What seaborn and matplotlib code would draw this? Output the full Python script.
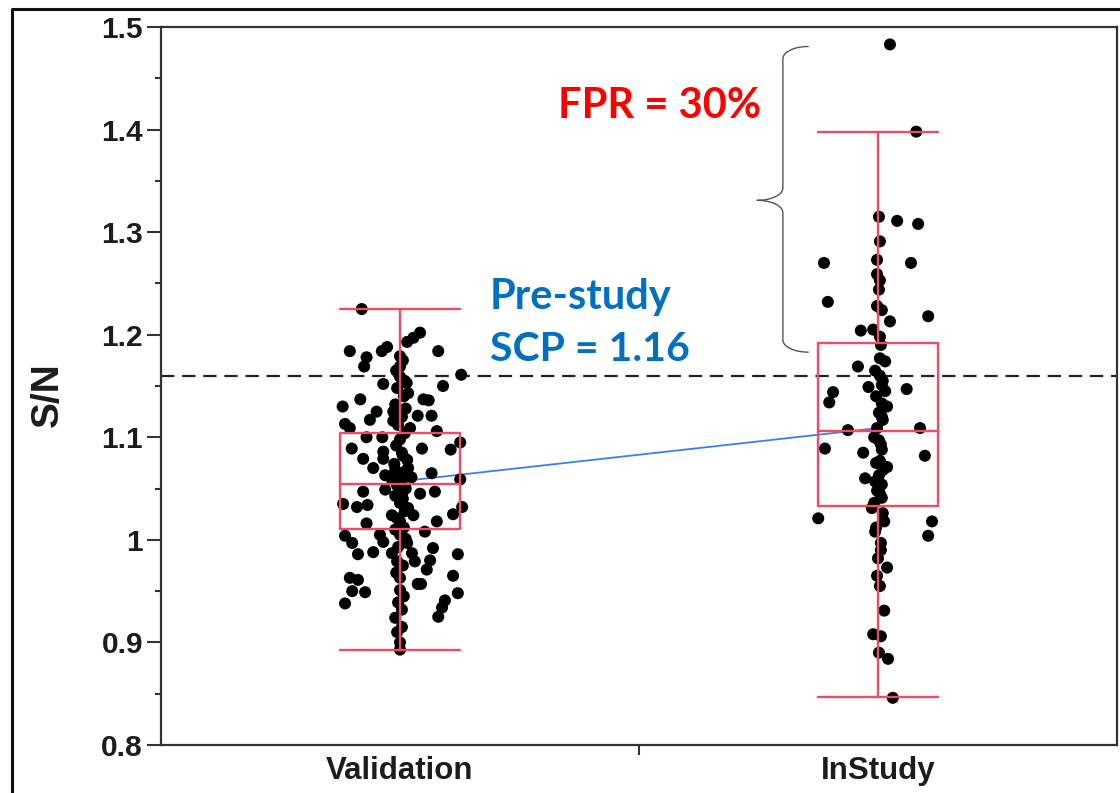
import numpy as np
import pandas as pd
import matplotlib
matplotlib.use("Agg")
import matplotlib.pyplot as plt
from matplotlib.lines import Line2D
from matplotlib.ticker import MultipleLocator, FixedLocator
import seaborn as sns

# ---------------------------------------------------------------- data
groups = ["Validation", "InStudy"]

# S/N values and horizontal jitter (in category units) for the Validation set
val_sn = [
    1.225, 1.202, 1.197, 1.193, 1.184, 1.188, 1.184, 1.184, 1.178, 1.179,
    1.169, 1.169, 1.161, 1.159, 1.152, 1.150, 1.153, 1.143, 1.137, 1.137,
    1.136, 1.130, 1.125, 1.125, 1.121, 1.121, 1.117, 1.113, 1.116, 1.109,
    1.109, 1.106, 1.100, 1.100, 1.098, 1.095, 1.089, 1.089, 1.088, 1.086,
    1.085, 1.079, 1.079, 1.078, 1.070, 1.068, 1.070, 1.063, 1.061, 1.061,
    1.065, 1.059, 1.059, 1.047, 1.049, 1.047, 1.045, 1.047, 1.035, 1.032,
    1.034, 1.036, 1.031, 1.032, 1.024, 1.024, 1.025, 1.016, 1.018, 1.018,
    1.008, 1.004, 1.005, 1.005, 0.997, 0.998, 0.997, 0.988, 0.986, 0.987,
    0.987, 0.992, 0.986, 0.980, 0.979, 0.979, 0.971, 0.963, 0.961, 0.963,
    0.965, 0.957, 0.957, 0.950, 0.949, 0.951, 0.948, 0.938, 0.941, 0.939,
    0.934, 0.925, 0.924, 0.932, 0.900, 0.893,
    1.175, 1.165, 1.155, 1.148, 1.140, 1.132, 1.128, 1.120, 1.112, 1.104,
    1.092, 1.082, 1.074, 1.066, 1.058, 1.053, 1.050, 1.043, 1.040, 1.028,
    1.021, 1.012, 1.010, 1.001, 0.993, 0.975, 0.968, 0.945, 0.915, 0.910,
]
val_jitter = [
    -0.080, 0.042, 0.028, 0.015, -0.105, -0.027, -0.038, 0.080, -0.070, 0.000,
    -0.075, 0.000, 0.128, 0.000, -0.035, 0.090, 0.014, 0.017, -0.083, 0.049,
    0.060, -0.120, -0.049, -0.014, 0.037, 0.066, -0.063, -0.115, -0.014, -0.105,
    0.021, 0.077, -0.070, -0.037, 0.000, 0.126, -0.101, 0.046, 0.106, -0.035,
    0.004, -0.077, -0.035, 0.015, -0.056, -0.010, 0.017, -0.031, 0.000, 0.024,
    0.066, 0.126, -0.017, -0.077, -0.031, 0.006, 0.042, 0.073, -0.119, -0.090,
    -0.068, 0.000, 0.017, 0.130, -0.017, 0.028, 0.111, -0.070, 0.000, 0.077,
    0.052, -0.115, -0.042, 0.000, -0.100, -0.035, 0.015, -0.056, -0.088, -0.017,
    0.025, 0.069, 0.121, 0.063, -0.006, 0.031, 0.056, -0.105, -0.088, 0.000,
    0.111, 0.037, 0.044, -0.100, -0.073, 0.000, 0.121, -0.115, 0.094, -0.004,
    0.088, 0.080, -0.010, 0.004, 0.000, 0.000,
    0.006, -0.008, 0.010, -0.006, 0.008, -0.010, 0.012, 0.004, -0.004, 0.010,
    -0.008, 0.006, -0.012, 0.008, 0.004, -0.006, 0.012, -0.010, 0.006, 0.010,
    -0.006, 0.008, -0.010, 0.012, -0.004, 0.006, -0.008, 0.008, 0.004, -0.006,
]

# S/N values and horizontal jitter for the in-study samples
ins_sn = [
    1.483, 1.398, 1.315, 1.311, 1.308, 1.291, 1.270, 1.273, 1.270, 1.259,
    1.253, 1.244, 1.232, 1.228, 1.224, 1.218, 1.213, 1.204, 1.205, 1.198,
    1.177, 1.174, 1.169, 1.160, 1.149, 1.151, 1.145, 1.147, 1.144, 1.134,
    1.133, 1.130, 1.124, 1.117, 1.107, 1.109, 1.109, 1.089, 1.085, 1.097,
    1.088, 1.082, 1.077, 1.071, 1.060, 1.063, 1.054, 1.048, 1.041, 1.021,
    1.031, 1.018, 1.018, 1.004, 1.008, 0.997, 0.982, 0.973, 0.955, 0.931,
    0.908, 0.906, 0.890, 0.884, 0.846,
    1.190, 1.165, 1.155, 1.140, 1.120, 1.100, 1.093, 1.075, 1.068, 1.057,
    1.045, 1.036, 1.026, 1.012, 0.990, 0.965,
]
ins_jitter = [
    0.025, 0.080, 0.002, 0.040, 0.084, 0.004, -0.113, -0.002, 0.069, -0.002,
    0.004, 0.002, -0.105, -0.002, 0.008, 0.105, 0.025, -0.036, -0.010, 0.004,
    0.004, 0.015, -0.042, 0.004, -0.020, 0.008, 0.015, 0.060, -0.094, -0.102,
    0.008, 0.019, 0.002, 0.010, -0.063, -0.002, 0.088, -0.111, -0.031, 0.002,
    0.008, 0.098, 0.004, 0.019, -0.027, 0.002, 0.008, -0.002, 0.008, -0.125,
    -0.013, 0.013, 0.113, 0.105, -0.006, 0.006, 0.000, 0.019, 0.004, 0.013,
    -0.010, 0.006, 0.002, 0.021, 0.031,
    0.006, -0.006, 0.010, -0.004, 0.008, -0.008, 0.006, -0.004, 0.010, -0.006,
    0.004, -0.008, 0.010, -0.004, 0.006, -0.002,
]

# box-plot summaries (quartiles and whisker ends)
box_q1 = [1.011, 1.033]
box_med = [1.054, 1.106]
box_q3 = [1.104, 1.192]
box_lo = [0.893, 0.847]
box_hi = [1.225, 1.398]
group_mean = [1.057, 1.109]

scp_cutoff = 1.16
y_ticks = [0.8, 0.9, 1.0, 1.1, 1.2, 1.3, 1.4, 1.5]
y_tick_labels = ["0.8", "0.9", "1", "1.1", "1.2", "1.3", "1.4", "1.5"]

# ---------------------------------------------------------------- frame
df = pd.DataFrame({
    "group": [groups[0]] * len(val_sn) + [groups[1]] * len(ins_sn),
    "code": [0] * len(val_sn) + [1] * len(ins_sn),
    "jitter": val_jitter + ins_jitter,
    "sn": val_sn + ins_sn,
})
df["xpos"] = df["code"] + df["jitter"]

# ---------------------------------------------------------------- style
sns.set_theme(style="white")
plt.rcParams["font.family"] = ["Liberation Sans", "DejaVu Sans"]

W, H = 1120, 793
fig = plt.figure(figsize=(W / 100, H / 100), dpi=100)
ax = fig.add_axes([161 / W, 1 - 745 / H, (1117 - 161) / W, (745 - 27) / H])

box_red = "#EF4B63"
mean_blue = "#3C7EEE"
ink = "#1c1c1c"

# line joining the group means
ax.plot([0, 1], group_mean, color=mean_blue, lw=1.3, zorder=2)

# reference cutoff
ax.axhline(scp_cutoff, color="#222222", lw=1.6, ls=(0, (6, 3.5)), zorder=1)

# jittered points
sns.scatterplot(data=df, x="xpos", y="sn", color="black", s=75,
                edgecolor="none", linewidth=0, legend=False, ax=ax, zorder=3)

# boxes on top of the points
stats = []
for i, g in enumerate(groups):
    stats.append(dict(label=g, med=box_med[i], q1=box_q1[i], q3=box_q3[i],
                      whislo=box_lo[i], whishi=box_hi[i], fliers=[]))
lp = dict(color=box_red, lw=1.7)
ax.bxp(stats, positions=[0, 1], widths=0.25, capwidths=0.25,
       showfliers=False, patch_artist=False,
       boxprops=lp, whiskerprops=lp, capprops=lp, medianprops=lp,
       manage_ticks=False, zorder=4)

# ---------------------------------------------------------------- axes
ax.set_xlim(-0.5, 1.5)
ax.set_ylim(0.8, 1.5)
ax.set_xlabel("")
ax.set_xticks([0, 1])
ax.set_xticklabels(groups)
ax.xaxis.set_minor_locator(FixedLocator([0.5]))
ax.set_yticks(y_ticks)
ax.set_yticklabels(y_tick_labels)
ax.yaxis.set_minor_locator(MultipleLocator(0.05))

for sp in ax.spines.values():
    sp.set_visible(True)
    sp.set_color("#333333")
    sp.set_linewidth(1.6)

ax.tick_params(axis="y", which="major", direction="out", length=10, width=1.5,
               color="#333333", pad=3, left=True)
ax.tick_params(axis="y", which="minor", direction="out", length=4.5, width=1.5,
               color="#333333", left=True)
ax.tick_params(axis="x", which="major", length=0, pad=8, bottom=True)
ax.tick_params(axis="x", which="minor", direction="out", length=7, width=1.5,
               color="#333333", bottom=True)
for lab in ax.get_yticklabels():
    lab.set_fontsize(21.5)
    lab.set_fontweight("bold")
    lab.set_color(ink)
for lab in ax.get_xticklabels():
    lab.set_fontsize(22.5)
    lab.set_fontweight("bold")
    lab.set_color(ink)

ax.set_ylabel("S/N", fontsize=28, fontweight="bold", color=ink, va="center")
ax.yaxis.set_label_coords((48 - 161) / 956, (745 - 395) / 718)

# ---------------------------------------------------------------- annotations
ax.text(0.331, 1.411, "FPR = 30%", color="#FF0000", fontsize=30,
        fontweight="bold", family=["Lato", "DejaVu Sans"],
        ha="left", va="baseline")
ax.text(0.188, 1.2246, "Pre-study", color="#0070C0", fontsize=30,
        fontweight="bold", family=["Lato", "DejaVu Sans"],
        ha="left", va="baseline")
ax.text(0.188, 1.174, "SCP = 1.16", color="#0070C0", fontsize=29.5,
        fontweight="bold", family=["Lato", "DejaVu Sans"],
        ha="left", va="baseline")

# curly brace spanning the in-study values above the cutoff
bx0, bxh, bxt = 0.801, 0.854, 0.747
by_top, by_tip, by_bot = 1.481, 1.331, 1.183
r = 0.012
t = np.linspace(0, np.pi / 2, 20)
top_x = bx0 + (bxh - bx0) * (1 - np.cos(t))
top_y = by_top - r * (1 - np.sin(t))
xs = list(top_x[::-1]) + [bx0, bx0]
ys = list(top_y[::-1]) + [by_tip + r, by_tip + r]
up_curve_x = bx0 - (bx0 - bxt) * (1 - np.cos(t))
up_curve_y = by_tip + r * (1 - np.sin(t))
xs += list(up_curve_x)
ys += list(up_curve_y)
xs += list(up_curve_x[::-1])
ys += list(by_tip - r * (1 - np.sin(t[::-1])))
xs += [bx0]
ys += [by_bot + r]
bot_x = bx0 + (bxh - bx0) * (1 - np.cos(t))
bot_y = by_bot + r * (1 - np.sin(t))
xs += list(bot_x)
ys += list(bot_y)
ax.plot(xs, ys, color="#555555", lw=1.0, zorder=2, solid_capstyle="round")

# outer frame of the graphic
fig.add_artist(Line2D([12 / W, 12 / W, 1.0], [0.0, 1 - 9 / H, 1 - 9 / H],
                      transform=fig.transFigure, color="#111111", lw=2.2))

fig.savefig("out.png", dpi=100)
